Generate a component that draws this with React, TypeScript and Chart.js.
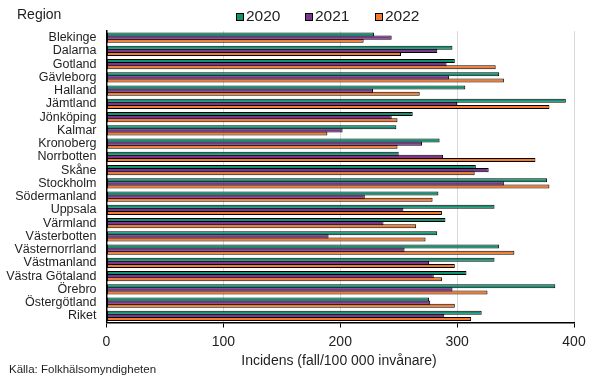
import React, { useEffect, useRef } from "react";
import { Chart, registerables } from "chart.js";

Chart.register(...registerables);

const regions = [
  "Blekinge", "Dalarna", "Gotland", "Gävleborg", "Halland", "Jämtland", "Jönköping",
  "Kalmar", "Kronoberg", "Norrbotten", "Skåne", "Stockholm", "Södermanland", "Uppsala",
  "Värmland", "Västerbotten", "Västernorrland", "Västmanland", "Västra Götaland",
  "Örebro", "Östergötland", "Riket",
];

const values2020 = [229, 296, 298, 336, 307, 393, 262, 248, 285, 250, 316, 377, 284, 332, 290, 283, 336, 332, 308, 384, 276, 321];
const values2021 = [244, 283, 291, 293, 228, 300, 244, 202, 270, 288, 327, 340, 221, 254, 237, 190, 255, 276, 280, 296, 277, 289];
const values2022 = [220, 252, 333, 340, 268, 379, 249, 189, 249, 367, 315, 379, 279, 287, 265, 273, 349, 298, 287, 326, 298, 312];

const seriesLabels = ["2020", "2021", "2022"];
const seriesColors = ["#109373", "#7d3590", "#f47b2e"];
const xTicks = [0, 100, 200, 300, 400];

const FONT = "'Liberation Sans', Arial, sans-serif";
const TEXT = "#1e1e1e";

const overlay = {
  id: "overlay",
  afterDraw(chart: any) {
    const ctx = chart.ctx;
    ctx.save();
    ctx.fillStyle = TEXT;
    ctx.textBaseline = "middle";
    ctx.textAlign = "left";
    ctx.font = `14px ${FONT}`;
    ctx.fillText("Region", 17, 15);

    const legendX = [236, 305, 375];
    chart.data.datasets.forEach((ds: any, i: number) => {
      const x = legendX[i];
      ctx.fillStyle = ds.backgroundColor;
      ctx.fillRect(x, 13, 8, 8);
      ctx.strokeStyle = "#000";
      ctx.lineWidth = 1;
      ctx.strokeRect(x + 0.5, 13.5, 7, 7);
      ctx.fillStyle = TEXT;
      ctx.font = `15.5px ${FONT}`;
      ctx.fillText(ds.label, x + 10, 17);
    });

    ctx.font = `14px ${FONT}`;
    ctx.textAlign = "center";
    ctx.fillText("Incidens (fall/100 000 invånare)", 339, 361);

    ctx.font = `11.5px ${FONT}`;
    ctx.textAlign = "left";
    ctx.fillText("Källa: Folkhälsomyndigheten", 9, 370);
    ctx.restore();
  },
};

export default function App() {
  const ref = useRef<HTMLCanvasElement | null>(null);

  useEffect(() => {
    document.body.style.margin = "0";
    const canvas = ref.current;
    if (!canvas) return;
    const chart = new Chart(canvas, {
      type: "bar",
      data: {
        labels: regions,
        datasets: [values2020, values2021, values2022].map((d, i) => ({
          label: seriesLabels[i],
          data: d,
          backgroundColor: seriesColors[i],
          borderColor: "#000",
          borderWidth: 1,
          borderSkipped: false,
          categoryPercentage: 0.7,
          barPercentage: 1.32,
        })),
      },
      options: {
        indexAxis: "y",
        animation: false,
        responsive: false,
        maintainAspectRatio: false,
        layout: { padding: { left: 0, right: 30, top: 31, bottom: 0 } },
        plugins: {
          legend: { display: false },
          tooltip: { enabled: false },
        },
        scales: {
          x: {
            min: 0,
            max: 400,
            afterBuildTicks: (scale: any) => {
              scale.ticks = xTicks.map((v) => ({ value: v }));
            },
            afterFit: (scale: any) => {
              scale.height = 56.5;
            },
            grid: {
              color: (c: any) => (c.tick && c.tick.value === 0 ? "rgba(0,0,0,0)" : "#d9d9d9"),
              tickColor: "#000",
              tickLength: 5,
              drawTicks: true,
            },
            border: { color: "#000", width: 1.5 },
            ticks: {
              font: { family: FONT, size: 14 },
              color: TEXT,
              padding: 6,
              maxRotation: 0,
            },
          },
          y: {
            afterFit: (scale: any) => {
              scale.width = 106.5;
            },
            grid: { display: false, drawTicks: false },
            border: { color: "#000", width: 1.5 },
            ticks: {
              font: { family: FONT, size: 12.5 },
              color: TEXT,
              padding: 10,
              autoSkip: false,
            },
          },
        },
      },
      plugins: [overlay],
    });
    return () => chart.destroy();
  }, []);

  return (
    <div style={{ width: 604, height: 379 }}>
      <canvas ref={ref} width={604} height={379} style={{ display: "block" }} />
    </div>
  );
}
